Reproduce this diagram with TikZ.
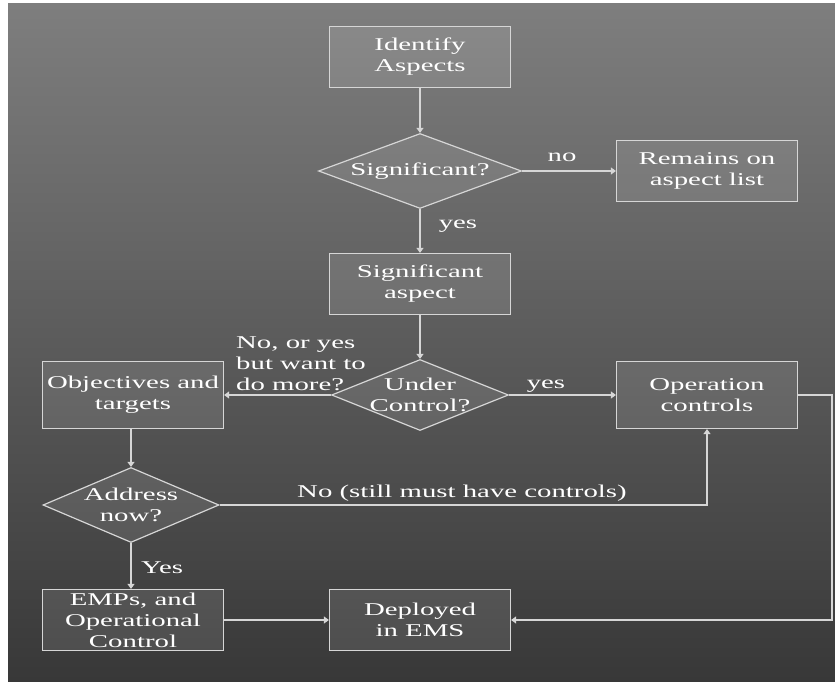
\documentclass[tikz,border=0pt]{standalone}
\usepackage{fontspec}
\setmainfont{Liberation Serif}[FakeStretch=1.6]
\usetikzlibrary{shapes.geometric,arrows.meta}
\definecolor{bgtop}{HTML}{7E7E7E}
\definecolor{bgbot}{HTML}{383838}
\definecolor{ln}{HTML}{D6D6D6}
\tikzset{
  every node/.style={text=white, font=\fontsize{18}{21}\selectfont},
  box/.style={draw=ln, line width=1.2pt, fill=white, fill opacity=0.1, text opacity=1,
    minimum width=181pt, minimum height=61pt, inner sep=0pt, align=center},
  dia/.style={shape=diamond, draw=ln, line width=1.2pt, fill=white, fill opacity=0.1, inner sep=0pt},
  dlabel/.style={text opacity=1, align=center},
  conn/.style={draw=ln, line width=1.2pt, -{Triangle[width=7pt,length=5pt]}},
  lbl/.style={inner sep=0pt, align=left}
}
\begin{document}
\begin{tikzpicture}[x=1pt,y=-1pt]
\useasboundingbox (0,0) rectangle (835,684);
\fill[white] (0,0) rectangle (835,684);
\shade[top color=bgtop, bottom color=bgbot] (8,4) rectangle (835,681);

\node[box] (ia) at (420,57) {Identify\\Aspects};
\node[dia, minimum width=203pt, minimum height=75pt,
  label={[dlabel]center:Significant?}] (sig) at (420,171) {};
\node[box] (rem) at (707,171) {Remains on\\aspect list};
\node[box] (sa) at (420,284) {Significant\\aspect};
\node[dia, minimum width=177pt, minimum height=71pt,
  label={[dlabel]center:Under\\Control?}] (uc) at (420,395) {};
\node[box, minimum height=67pt] (obj) at (133,395) {Objectives and\\targets};
\node[box, minimum height=67pt] (op) at (707,395) {Operation\\controls};
\node[dia, minimum width=176pt, minimum height=75pt,
  label={[dlabel]center:Address\\now?}] (ad) at (131,505) {};
\node[box] (emp) at (133,620) {EMPs, and\\Operational\\Control};
\node[box] (dep) at (420,620) {Deployed\\in EMS};

\coordinate (rt) at (832,395);
\coordinate (rb) at (832,620);

\draw[conn] (ia.south) -- (sig.north);
\draw[conn] (sig.east) -- (rem.west);
\draw[conn] (sig.south) -- (sa.north);
\draw[conn] (sa.south) -- (uc.north);
\draw[conn] (uc.west) -- (obj.east);
\draw[conn] (uc.east) -- (op.west);
\draw[conn] (obj.south -| ad.north) -- (ad.north);
\draw[conn] (ad.east) -| (op.south);
\draw[conn] (ad.south) -- (emp.north -| ad.south);
\draw[conn] (emp.east) -- (dep.west);
\draw[conn] (op.east) -- (rt) -- (rb) -- (dep.east);

\node[lbl] (lno) at (562,157) {no};
\node[lbl] (lyes1) at (458,226) {yes};
\node[lbl, anchor=west] (lq) at (236,364) {No, or yes\\but want to\\do more?};
\node[lbl] (lyes2) at (546,386) {yes};
\node[lbl] (lstill) at (462,493) {No (still must have controls)};
\node[lbl, anchor=west] (lyes3) at (141,568) {Yes};
\end{tikzpicture}
\end{document}
